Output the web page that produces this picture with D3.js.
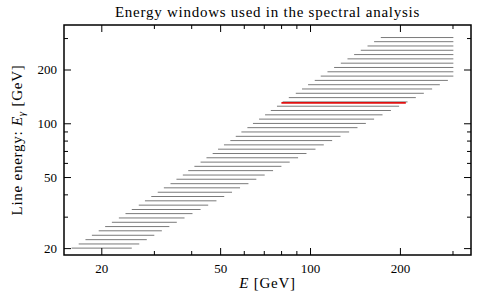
<!DOCTYPE html>
<html>
<head>
<meta charset="utf-8">
<script src="https://cdn.jsdelivr.net/npm/d3@7"></script>
<style>
  body { margin: 0; background: #fff; }
  svg { display: block; }
  text { font-family: "Liberation Serif", "DejaVu Serif", serif; fill: #000; }
</style>
</head>
<body>
<svg id="chart" width="498" height="306"></svg>
<script>
// line energies E_gamma [GeV] of the gray windows (bottom to top)
var lineEnergies = [20.0, 21.1, 22.3, 23.6, 25.0, 26.4, 27.9, 29.5, 31.2, 32.9,
  34.8, 36.8, 38.9, 41.1, 43.5, 45.9, 48.6, 51.3, 54.3, 57.4,
  60.6, 64.1, 67.7, 71.6, 75.7, 80.0, 84.5, 89.4, 94.5, 99.8,
  105.5, 111.5, 117.9, 124.6, 131.7, 139.2, 147.2, 155.6, 164.4, 173.8,
  183.7, 194.2, 205.3, 217.0, 229.4, 242.4, 256.3, 270.9, 286.3, 302.0];
// lower edge of each energy window [GeV]
var windowLow = [15.9, 16.8, 17.7, 18.6, 19.6, 20.6, 21.7, 22.9, 24.1, 25.3,
  26.7, 28.0, 29.4, 30.9, 32.4, 34.1, 35.7, 37.5, 39.1, 41.0,
  43.0, 45.0, 47.2, 49.2, 51.5, 54.1, 56.4, 58.9, 61.7, 64.4,
  67.5, 70.7, 73.9, 77.5, 81.0, 84.9, 89.6, 94.0, 98.5, 103.7,
  108.6, 114.4, 120.4, 126.8, 133.5, 140.5, 147.9, 155.8, 163.9, 172.6];
// upper edge of each energy window [GeV]
var windowHigh = [25.3, 26.8, 28.4, 30.1, 31.9, 33.8, 35.8, 38.0, 40.4, 43.0,
  45.6, 48.6, 51.6, 54.8, 58.3, 62.2, 66.1, 70.5, 75.2, 80.2,
  85.5, 91.2, 97.3, 104.3, 111.2, 118.6, 126.5, 135.2, 144.2, 153.8,
  163.9, 174.9, 186.6, 198.8, 212.1, 226.1, 240.5, 256.4, 272.1, 289.5,
  302.0, 302.0, 302.0, 302.0, 302.0, 302.0, 302.0, 302.0, 302.0, 302.0];
// highlighted window at 130 GeV
var redEnergy = [130.0];
var redLow = [80.2];
var redHigh = [209.3];

var xMajor = [20, 50, 100, 200];
var xMinor = [30, 40, 60, 70, 80, 90, 300];
var yMajor = [20, 50, 100, 200];
var yMinor = [30, 40, 60, 70, 80, 90, 300];

var svg = d3.select('#chart'),
    WIDTH = 498,
    HEIGHT = 306,
    MARGINS = { top: 25, right: 27, bottom: 51, left: 64 };

var xRange = d3.scaleLog().domain([15, 346]).range([MARGINS.left, WIDTH - MARGINS.right]);
var yRange = d3.scaleLog().domain([18.3, 355]).range([HEIGHT - MARGINS.bottom, MARGINS.top]);

var windows = lineEnergies.map(function(e, i) {
  return { e: e, lo: windowLow[i], hi: windowHigh[i] };
});
var redWindows = redEnergy.map(function(e, i) {
  return { e: e, lo: redLow[i], hi: redHigh[i] };
});

svg.append('g').selectAll('line')
  .data(windows)
  .enter().append('line')
  .attr('x1', function(d) { return xRange(d.lo); })
  .attr('x2', function(d) { return xRange(d.hi); })
  .attr('y1', function(d) { return yRange(d.e); })
  .attr('y2', function(d) { return yRange(d.e); })
  .attr('stroke', '#7a7a7a')
  .attr('stroke-width', 1);

svg.append('g').selectAll('line')
  .data(redWindows)
  .enter().append('line')
  .attr('x1', function(d) { return xRange(d.lo); })
  .attr('x2', function(d) { return xRange(d.hi); })
  .attr('y1', function(d) { return yRange(d.e); })
  .attr('y2', function(d) { return yRange(d.e); })
  .attr('stroke', '#e01010')
  .attr('stroke-width', 1.7);

// axes, ticks pointing inward on all four sides
var fmt = function(d) { return d3.format('d')(d); };
var bottomY = HEIGHT - MARGINS.bottom,
    rightX = WIDTH - MARGINS.right;

function styleAxis(g) {
  g.select('.domain').remove();
  g.selectAll('.tick line').attr('stroke', '#000').attr('stroke-width', 1);
  g.selectAll('.tick text').style('font-size', '13px')
    .style('font-family', '"Liberation Serif", "DejaVu Serif", serif');
}

svg.append('g').attr('transform', 'translate(0,' + bottomY + ')')
  .call(d3.axisBottom(xRange).tickValues(xMajor).tickFormat(fmt).tickSize(-7).tickPadding(9))
  .call(styleAxis);
svg.append('g').attr('transform', 'translate(0,' + bottomY + ')')
  .call(d3.axisBottom(xRange).tickValues(xMinor).tickFormat('').tickSize(-4))
  .call(styleAxis);
svg.append('g').attr('transform', 'translate(0,' + MARGINS.top + ')')
  .call(d3.axisTop(xRange).tickValues(xMajor).tickFormat('').tickSize(-7))
  .call(styleAxis);
svg.append('g').attr('transform', 'translate(0,' + MARGINS.top + ')')
  .call(d3.axisTop(xRange).tickValues(xMinor).tickFormat('').tickSize(-4))
  .call(styleAxis);

svg.append('g').attr('transform', 'translate(' + MARGINS.left + ',0)')
  .call(d3.axisLeft(yRange).tickValues(yMajor).tickFormat(fmt).tickSize(-7).tickPadding(7))
  .call(styleAxis);
svg.append('g').attr('transform', 'translate(' + MARGINS.left + ',0)')
  .call(d3.axisLeft(yRange).tickValues(yMinor).tickFormat('').tickSize(-4))
  .call(styleAxis);
svg.append('g').attr('transform', 'translate(' + rightX + ',0)')
  .call(d3.axisRight(yRange).tickValues(yMajor).tickFormat('').tickSize(-7))
  .call(styleAxis);
svg.append('g').attr('transform', 'translate(' + rightX + ',0)')
  .call(d3.axisRight(yRange).tickValues(yMinor).tickFormat('').tickSize(-4))
  .call(styleAxis);

// frame
svg.append('rect')
  .attr('x', MARGINS.left)
  .attr('y', MARGINS.top)
  .attr('width', rightX - MARGINS.left)
  .attr('height', bottomY - MARGINS.top)
  .attr('fill', 'none')
  .attr('stroke', '#000')
  .attr('stroke-width', 1.5);

// title and axis labels
svg.append('text')
  .attr('x', (MARGINS.left + rightX) / 2)
  .attr('y', 17)
  .attr('text-anchor', 'middle')
  .style('font-size', '15px')
  .style('letter-spacing', '0.75px')
  .text('Energy windows used in the spectral analysis');

var xl = svg.append('text')
  .attr('x', (MARGINS.left + rightX) / 2)
  .attr('y', 288)
  .attr('text-anchor', 'middle')
  .style('font-size', '15px')
  .style('letter-spacing', '0.75px');
xl.append('tspan').style('font-style', 'italic').text('E');
xl.append('tspan').text(' [GeV]');

var yl = svg.append('text')
  .attr('transform', 'translate(22,' + ((MARGINS.top + bottomY) / 2) + ') rotate(-90)')
  .attr('text-anchor', 'middle')
  .style('font-size', '15px')
  .style('letter-spacing', '0.75px');
yl.append('tspan').text('Line energy: ');
yl.append('tspan').style('font-style', 'italic').text('E');
yl.append('tspan').style('font-style', 'italic').style('font-size', '11px').attr('dy', 3).text('γ');
yl.append('tspan').attr('dy', -3).text(' [GeV]');
</script>
</body>
</html>
